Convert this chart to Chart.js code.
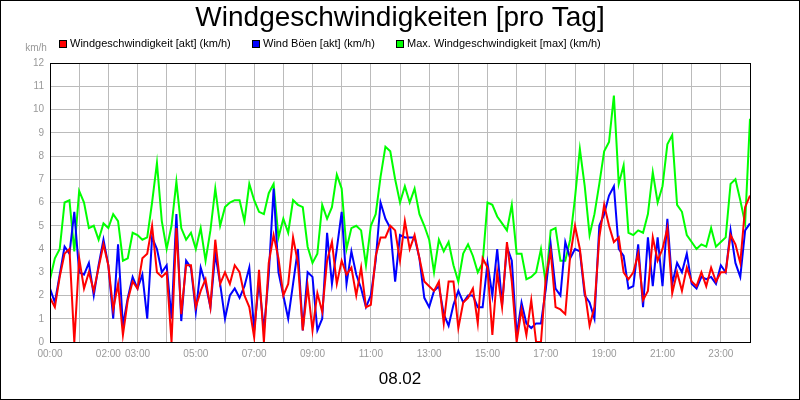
<!DOCTYPE html>
<html>
<head>
<meta charset="utf-8">
<script src="https://cdn.jsdelivr.net/npm/chart.js@4/dist/chart.umd.min.js"></script>
<style>
  body { margin: 0; background: #fff; }
  #wrap { width: 800px; height: 400px; position: relative; }
</style>
</head>
<body>
<div id="wrap"><canvas id="wind" width="800" height="400"></canvas></div>
<script>
// one sample every 10 minutes, 00:00 .. 24:00
const minutes = Array.from({ length: 145 }, (_, i) => i * 10);

const windAkt = [
  1.9,1.5,2.8,3.8,4.0,0,3.6,2.3,3.0,2.2,3.2,4.2,3.3,1.4,2.5,0.3,1.8,2.6,2.3,3.6,3.8,5.0,3.0,2.8,3.0,0,4.9,1.2,3.3,3.3,1.5,2.2,2.7,1.5,4.4,2.5,
  3.0,2.5,3.3,3.0,2.0,1.5,0.2,3.1,0,3.4,4.6,3.6,2.0,2.5,4.5,3.4,0.5,2.4,0.5,2.1,1.3,3.5,4.3,2.5,3.5,2.9,3.2,2.0,3.2,1.5,1.6,3.7,4.5,4.5,5.0,
  4.8,3.5,5.2,4.0,4.6,3.6,2.6,2.4,2.2,2.6,0.8,2.6,2.6,0.6,1.7,1.9,2.3,0.8,3.6,3.2,0.3,3.0,1.5,4.3,2.6,0,1.4,0.3,1.8,0,0,2.8,3.9,1.5,1.4,1.2,3.7,
  5.0,4.0,2.2,0.7,1.5,4.5,5.9,5.0,4.3,4.5,3.0,2.7,3.0,3.8,1.8,2.2,4.5,3.5,4.0,4.9,2.1,3.0,2.2,3.2,2.6,2.4,3.0,2.4,3.2,2.6,3.0,3.0,4.6,4.2,3.4,5.8,6.3
];
const windBoen = [
  2.3,1.7,2.9,4.1,3.8,5.6,3.0,2.9,3.4,2.0,3.3,4.4,3.3,1.0,4.2,0.7,1.9,2.8,2.3,2.9,1.0,4.5,4.0,3.0,3.3,1.0,5.5,0.9,3.5,3.2,1.3,3.2,2.5,1.5,3.8,2.5,
  1.0,2.0,2.3,1.9,2.4,3.2,0.5,2.6,0.5,2.9,6.6,3.0,2.0,1.0,2.5,4.0,0.5,3.0,2.8,0.5,1.0,4.7,2.5,4.0,5.6,2.5,3.9,2.9,2.3,1.5,2.0,3.5,6.0,5.3,4.9,
  2.6,4.6,4.5,4.5,4.5,3.6,1.9,1.5,2.2,2.4,1.2,0.7,1.6,2.2,1.7,2.0,2.0,1.5,1.5,3.4,2.0,4.0,1.6,4.1,3.5,0.3,1.7,0.8,0.6,0.8,0.8,2.3,4.2,2.3,2.0,4.3,3.6,
  4.0,3.9,2.0,1.7,1.0,5.0,5.5,6.3,6.7,4.0,3.7,2.3,2.4,4.2,1.5,4.5,2.4,4.5,2.4,5.3,2.5,3.4,3.0,3.8,2.5,2.3,2.8,2.7,2.8,2.5,3.3,3.0,4.8,3.4,2.8,4.8,5.1
];
const windMax = [
  2.7,3.6,4.0,6.0,6.1,3.9,6.5,6.0,4.9,5.0,4.4,5.1,4.9,5.5,5.2,3.5,3.6,4.7,4.6,4.4,4.5,6.0,7.7,5.2,4.0,5.0,6.9,4.9,4.4,4.7,4.0,4.9,3.5,4.8,6.6,5.0,
  5.8,6.0,6.1,6.1,5.2,6.8,6.1,5.6,5.5,6.4,6.8,4.5,5.3,4.7,6.1,5.9,5.8,4.1,3.4,3.8,5.9,5.3,5.8,7.2,6.6,4.0,4.9,5.0,4.8,3.3,5.0,5.5,7.1,8.4,8.2,
  7.0,6.0,6.7,6.0,6.6,5.5,5.0,4.4,3.0,4.4,3.9,4.3,3.3,2.6,3.8,4.2,3.7,3.0,3.4,6.0,5.9,5.4,5.1,4.8,5.9,3.8,3.8,2.7,2.8,3.0,4.0,2.5,4.8,4.9,3.5,3.5,4.4,
  6.2,8.3,6.7,4.6,5.5,6.8,8.2,8.6,10.6,6.8,7.6,4.7,4.6,4.8,4.7,5.5,7.3,6.0,6.7,8.5,8.9,5.9,5.6,4.6,4.3,4.0,4.2,4.1,4.9,4.1,4.3,4.5,6.8,7.0,6.1,5.1,9.6
];

const seriesNames = [
  "Windgeschwindigkeit [akt] (km/h)",
  "Wind Böen [akt] (km/h)",
  "Max. Windgeschwindigkeit [max] (km/h)"
];
const seriesColors = ["#ff0000", "#0000ff", "#00ff00"];
const hourLabels = ["00:00", "02:00", "03:00", "05:00", "07:00", "09:00", "11:00", "13:00", "15:00", "17:00", "19:00", "21:00", "23:00"];
const title = "Windgeschwindigkeiten [pro Tag]";
const dateLabel = "08.02";
const unitLabel = "km/h";

const FONT = "'Liberation Sans', Arial, sans-serif";

const toPoints = vals => minutes.map((m, i) => ({ x: m, y: vals[i] }));

// title, legend, unit and date drawn around the plot
const decorations = {
  id: "decorations",
  afterDraw(chart) {
    const ctx = chart.ctx;
    const area = chart.chartArea;
    ctx.save();
    ctx.fillStyle = "#000";
    ctx.textAlign = "center";
    ctx.textBaseline = "middle";
    ctx.font = "28px " + FONT;
    ctx.fillText(title, 400, 18);
    ctx.font = "17px " + FONT;
    ctx.fillText(dateLabel, 400, 379);

    const legendX = [59, 252, 396];
    ctx.font = "11px " + FONT;
    ctx.textAlign = "left";
    seriesNames.forEach((name, i) => {
      ctx.fillStyle = seriesColors[i];
      ctx.fillRect(legendX[i], 40, 7, 7);
      ctx.strokeStyle = "#000";
      ctx.lineWidth = 1;
      ctx.strokeRect(legendX[i] + 0.5, 40.5, 7, 7);
      ctx.fillStyle = "#000";
      ctx.fillText(name, legendX[i] + 11, 44);
    });

    ctx.fillStyle = "#999";
    ctx.font = "10px " + FONT;
    ctx.textAlign = "center";
    ctx.fillText(unitLabel, 36, 48);

    ctx.strokeStyle = "#000";
    ctx.lineWidth = 1;
    ctx.strokeRect(area.left + 0.5, area.top + 0.5, area.right - area.left, area.bottom - area.top);
    ctx.strokeRect(0.5, 0.5, 799, 399);
    ctx.restore();
  }
};

new Chart(document.getElementById("wind"), {
  type: "line",
  data: {
    datasets: [windAkt, windBoen, windMax].map((vals, i) => ({
      label: seriesNames[i],
      data: toPoints(vals),
      borderColor: seriesColors[i],
      borderWidth: 2,
      pointRadius: 0,
      tension: 0
    }))
  },
  options: {
    responsive: false,
    animation: false,
    devicePixelRatio: 1,
    layout: { padding: { left: 10, right: 50, top: 63, bottom: 0 } },
    plugins: {
      legend: { display: false },
      title: { display: false },
      tooltip: { enabled: false }
    },
    scales: {
      x: {
        type: "linear",
        min: 0,
        max: 1440,
        afterFit: s => { s.height = 58; },
        afterBuildTicks: s => { s.ticks = minutes.filter(m => m % 60 === 0).map(m => ({ value: m })); },
        grid: { color: "#bbb", drawTicks: false },
        border: { display: false },
        ticks: {
          color: "#999",
          font: { size: 10, family: FONT },
          maxRotation: 0,
          autoSkip: false,
          padding: 6,
          callback: v => {
            const lbl = String(Math.floor(v / 60)).padStart(2, "0") + ":00";
            return hourLabels.includes(lbl) ? lbl : "";
          }
        }
      },
      y: {
        min: 0,
        max: 12,
        afterFit: s => { s.width = 40; },
        grid: { color: "#bbb", drawTicks: false },
        border: { display: false },
        ticks: { stepSize: 1, color: "#999", font: { size: 10, family: FONT }, padding: 6 }
      }
    }
  },
  plugins: [decorations]
});
</script>
</body>
</html>
